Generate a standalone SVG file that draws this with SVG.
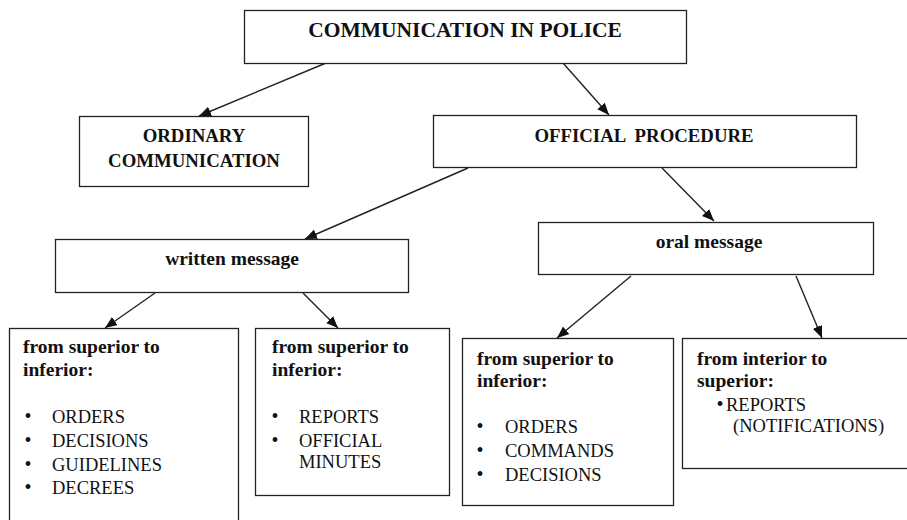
<svg xmlns="http://www.w3.org/2000/svg" width="907" height="520" viewBox="0 0 907 520">
  <defs>
    <marker id="arrow" markerUnits="userSpaceOnUse" markerWidth="14" markerHeight="12" refX="12" refY="5" orient="auto">
      <path d="M0,0 L12,5 L0,10 Z" fill="#111"/>
    </marker>
    <style>
      .box { fill: #fff; stroke: #222; stroke-width: 1.3; }
      .edge { stroke: #222; stroke-width: 1.4; fill: none; marker-end: url(#arrow); }
      text { font-family: "Liberation Serif", "Times New Roman", serif; fill: #111; }
      .title { font-weight: bold; font-size: 21.5px; text-anchor: middle; }
      .head { font-weight: bold; font-size: 18.8px; text-anchor: middle; }
      .sub { font-weight: bold; font-size: 19.5px; }
      .item { font-size: 18.5px; }
      .bullet { font-size: 20px; text-anchor: middle; }
    </style>
  </defs>

  <rect width="907" height="520" fill="#fff"/>

  <!-- connectors -->
  <g id="connectors">
    <line class="edge" x1="326" y1="63" x2="199" y2="116"/>
    <line class="edge" x1="563" y1="63" x2="609" y2="115"/>
    <line class="edge" x1="468" y1="168" x2="305" y2="239"/>
    <line class="edge" x1="662" y1="168" x2="714" y2="221"/>
    <line class="edge" x1="155" y1="293" x2="105" y2="328"/>
    <line class="edge" x1="303" y1="293" x2="338" y2="328"/>
    <line class="edge" x1="631" y1="276" x2="557" y2="338"/>
    <line class="edge" x1="796" y1="276" x2="822" y2="338"/>
  </g>

  <g id="communication-in-police">
    <rect class="box" x="244.5" y="10.5" width="442" height="53"/>
    <text class="title" font-family="Liberation Serif" x="465" y="37">COMMUNICATION IN POLICE</text>
  </g>

  <g id="ordinary-communication">
    <rect class="box" x="79.5" y="116.5" width="229" height="70"/>
    <text class="head" font-family="Liberation Serif" x="194" y="142">ORDINARY</text>
    <text class="head" font-family="Liberation Serif" x="194" y="167">COMMUNICATION</text>
  </g>

  <g id="official-procedure">
    <rect class="box" x="433.5" y="115.5" width="423" height="52"/>
    <text class="head" font-family="Liberation Serif" x="644" y="142" xml:space="preserve">OFFICIAL  PROCEDURE</text>
  </g>

  <g id="written-message">
    <rect class="box" x="55.5" y="239.5" width="353" height="53"/>
    <text class="sub" font-family="Liberation Serif" x="232" y="265" text-anchor="middle">written message</text>
  </g>

  <g id="oral-message">
    <rect class="box" x="538.5" y="222.5" width="335" height="52"/>
    <text class="sub" font-family="Liberation Serif" x="709" y="248" text-anchor="middle">oral message</text>
  </g>

  <g id="written-superior-to-inferior">
    <rect class="box" x="9.5" y="328.5" width="229" height="200"/>
    <text class="sub" font-family="Liberation Serif" x="23" y="353">from superior to</text>
    <text class="sub" font-family="Liberation Serif" x="23" y="376">inferior:</text>
    <text class="bullet" font-family="Liberation Serif" x="28" y="423">•</text>
    <text class="item" font-family="Liberation Serif" x="52" y="423">ORDERS</text>
    <text class="bullet" font-family="Liberation Serif" x="28" y="447">•</text>
    <text class="item" font-family="Liberation Serif" x="52" y="447">DECISIONS</text>
    <text class="bullet" font-family="Liberation Serif" x="28" y="471">•</text>
    <text class="item" font-family="Liberation Serif" x="52" y="471">GUIDELINES</text>
    <text class="bullet" font-family="Liberation Serif" x="28" y="494">•</text>
    <text class="item" font-family="Liberation Serif" x="52" y="494">DECREES</text>
  </g>

  <g id="written-reports">
    <rect class="box" x="255.5" y="328.5" width="194" height="167"/>
    <text class="sub" font-family="Liberation Serif" x="272" y="353">from superior to</text>
    <text class="sub" font-family="Liberation Serif" x="272" y="376">inferior:</text>
    <text class="bullet" font-family="Liberation Serif" x="275" y="423">•</text>
    <text class="item" font-family="Liberation Serif" x="299" y="423">REPORTS</text>
    <text class="bullet" font-family="Liberation Serif" x="275" y="447">•</text>
    <text class="item" font-family="Liberation Serif" x="299" y="447">OFFICIAL</text>
    <text class="item" font-family="Liberation Serif" x="299" y="468">MINUTES</text>
  </g>

  <g id="oral-superior-to-inferior">
    <rect class="box" x="462.5" y="338.5" width="211" height="167"/>
    <text class="sub" font-family="Liberation Serif" x="477" y="365">from superior to</text>
    <text class="sub" font-family="Liberation Serif" x="477" y="387">inferior:</text>
    <text class="bullet" font-family="Liberation Serif" x="480" y="433">•</text>
    <text class="item" font-family="Liberation Serif" x="505" y="433">ORDERS</text>
    <text class="bullet" font-family="Liberation Serif" x="480" y="457">•</text>
    <text class="item" font-family="Liberation Serif" x="505" y="457">COMMANDS</text>
    <text class="bullet" font-family="Liberation Serif" x="480" y="481">•</text>
    <text class="item" font-family="Liberation Serif" x="505" y="481">DECISIONS</text>
  </g>

  <g id="oral-interior-to-superior">
    <rect class="box" x="682.5" y="338.5" width="230" height="130"/>
    <text class="sub" font-family="Liberation Serif" x="697" y="365">from interior to</text>
    <text class="sub" font-family="Liberation Serif" x="697" y="387">superior:</text>
    <text class="bullet" font-family="Liberation Serif" x="720" y="411">•</text>
    <text class="item" font-family="Liberation Serif" x="726" y="411">REPORTS</text>
    <text class="item" font-family="Liberation Serif" x="733" y="432">(NOTIFICATIONS)</text>
  </g>
</svg>
